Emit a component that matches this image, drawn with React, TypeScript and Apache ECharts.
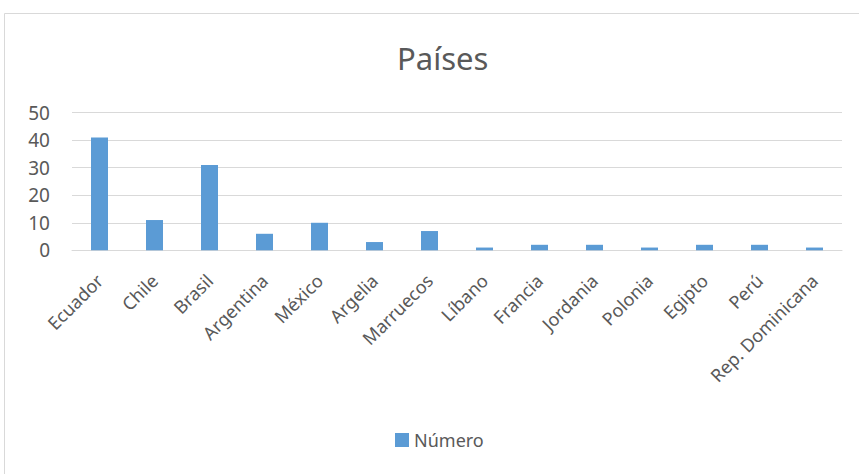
import React, { useEffect, useRef } from "react";
import * as echarts from "echarts";

const categories = [
  "Ecuador", "Chile", "Brasil", "Argentina", "México", "Argelia", "Marruecos",
  "Líbano", "Francia", "Jordania", "Polonia", "Egipto", "Perú", "Rep. Dominicana",
];
const numero = [41, 11, 31, 6, 10, 3, 7, 1, 2, 2, 1, 2, 2, 1];
const yTicks = { min: 0, max: 50, interval: 10 };

const FONT = "'Noto Sans', 'Open Sans', sans-serif";
const TEXT = "#595959";

export default function App() {
  const ref = useRef<HTMLDivElement>(null);
  useEffect(() => {
    const chart = echarts.init(ref.current!, null, { renderer: "svg" });
    chart.setOption({
      animation: false,
      backgroundColor: "#ffffff",
      title: {
        text: "Países",
        left: 392,
        top: 37,
        textStyle: { fontFamily: FONT, fontSize: 31, fontWeight: "normal", color: TEXT },
      },
      graphic: [
        {
          type: "rect",
          shape: { x: 4.5, y: 13.5, width: 870, height: 470 },
          style: { fill: "none", stroke: "#d9d9d9", lineWidth: 1 },
          silent: true,
          z: -1,
        },
      ],
      legend: {
        bottom: 20,
        left: 390,
        itemWidth: 14,
        itemHeight: 14,
        itemGap: 4,
        icon: "rect",
        textStyle: { fontFamily: FONT, fontSize: 18, color: TEXT, padding: [0, 0, 0, 0] },
        data: ["Número"],
      },
      grid: { left: 72, right: 17, top: 112.7, bottom: 223.7, containLabel: false },
      xAxis: {
        type: "category",
        data: categories,
        axisLine: { lineStyle: { color: "#d9d9d9", width: 1 } },
        axisTick: { show: false },
        axisLabel: {
          rotate: 45,
          interval: 0,
          margin: 27,
          fontFamily: FONT,
          fontSize: 18,
          color: TEXT,
        },
      },
      yAxis: {
        type: "value",
        min: yTicks.min,
        max: yTicks.max,
        interval: yTicks.interval,
        axisLine: { show: false },
        axisTick: { show: false },
        splitLine: { lineStyle: { color: "#d9d9d9", width: 1 } },
        axisLabel: { fontFamily: FONT, fontSize: 19, color: TEXT, margin: 22 },
      },
      series: [
        {
          name: "Número",
          type: "bar",
          data: numero,
          barWidth: 17,
          itemStyle: { color: "#5b9bd5" },
        },
      ],
    });
    return () => chart.dispose();
  }, []);
  return (
    <div
      ref={ref}
      style={{ position: "fixed", left: 0, top: 0, width: 859, height: 474 }}
    />
  );
}
